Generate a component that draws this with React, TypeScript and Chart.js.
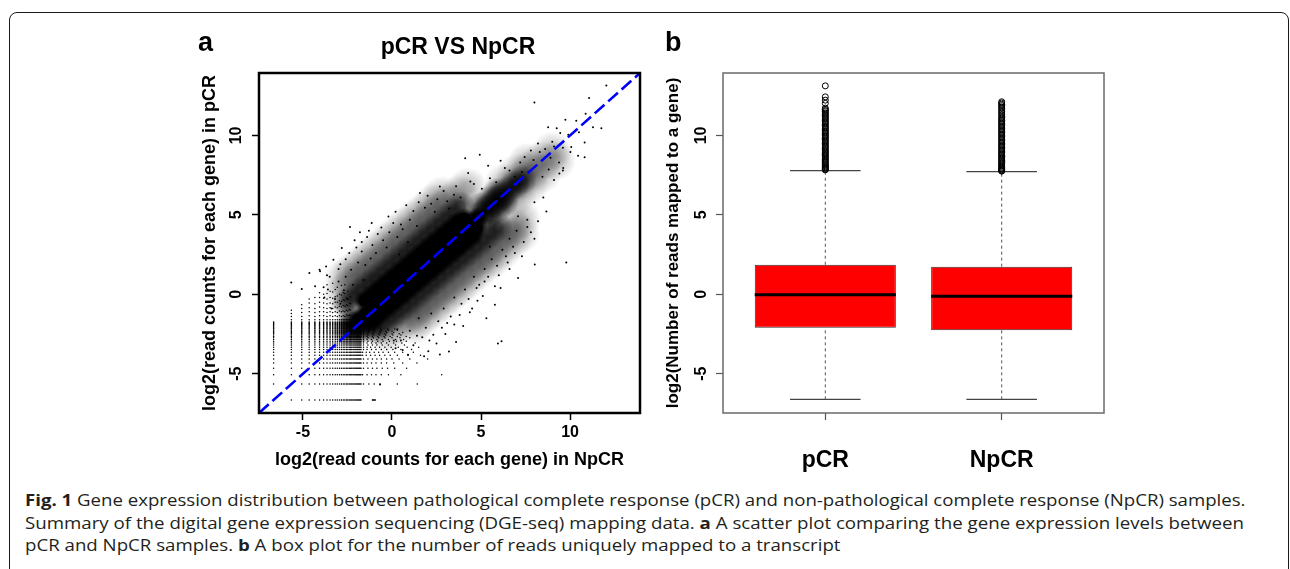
import React, { useEffect, useLayoutEffect, useRef, useState } from 'react';
import { Chart, registerables } from 'chart.js';

Chart.register(...registerables);

const PLOT_FONT = '"Liberation Sans", Arial, Helvetica, sans-serif';
const CAPTION_FONT = '"Open Sans", "Noto Sans", sans-serif';

// ---------------- panel a : scatter ----------------
const scatterTitle = 'pCR VS NpCR';
const scatterXLabel = 'log2(read counts for each gene) in NpCR';
const scatterYLabel = 'log2(read counts for each gene) in pCR';
const axisRange = [-7.47, 13.93];
const axisTicks = [-5, 0, 5, 10];
const diagonalEnds = [-7.47, 13.93];

// solid black core of the gene cloud
const corePoints = [
  [-1.9, -1.6], [-1.5, -1.22], [-1.1, -0.84], [-0.7, -0.46], [-0.3, -0.08], [0.1, 0.3], [0.5, 0.68], [0.9, 1.06],
  [1.3, 1.44], [1.7, 1.82], [2.1, 2.2], [2.5, 2.58], [2.9, 2.96], [3.3, 3.34], [3.7, 3.72], [4.1, 4.1], [4.5, 4.5], [4.8, 4.8],
  [-1.54, -0.4], [-1.14, -0.02], [-0.74, 0.36], [-0.34, 0.74], [0.06, 1.12], [0.46, 1.5], [0.86, 1.88],
  [1.26, 2.26], [1.66, 2.64], [2.06, 3.02], [2.46, 3.4], [2.86, 3.78], [3.26, 4.16], [3.66, 4.54],
  [-1.06, -1.66], [-0.66, -1.28], [-0.26, -0.9], [0.14, -0.52], [0.54, -0.14], [0.94, 0.24], [1.34, 0.62], [1.74, 1.0],
  [2.14, 1.38], [2.54, 1.76], [2.94, 2.14], [3.34, 2.52], [3.74, 2.9], [4.14, 3.28], [4.54, 3.66],
  [4.75, 4.15], [4.05, 4.75], [-1.45, -1.75],
];

// dense stippled zone around the core
const denseZonePoints = [
  [-2.55, -0.55], [-2.15, -0.15], [-1.75, 0.23], [-1.35, 0.62], [-0.95, 0.97], [-0.55, 1.35], [-0.15, 1.73], [0.25, 2.11],
  [0.65, 2.49], [1.05, 2.87], [1.45, 3.25], [1.85, 3.63], [2.25, 4.0], [2.65, 4.38], [3.05, 4.76], [3.45, 5.15], [3.85, 5.55],
  [-0.85, -2.25], [-0.45, -1.85], [-0.05, -1.47], [0.35, -1.08], [0.75, -0.73], [1.15, -0.35], [1.55, 0.03], [1.95, 0.41],
  [2.35, 0.79], [2.75, 1.17], [3.15, 1.55], [3.55, 1.93], [3.95, 2.3], [4.35, 2.68], [4.75, 3.06], [5.15, 3.45], [5.55, 3.85],
  [5.95, 4.25],
  [4.9, 4.9], [5.3, 5.3], [5.7, 5.7], [6.1, 6.1], [6.5, 6.5], [6.9, 6.9], [5.0, 5.5], [5.5, 5.9], [5.9, 6.4], [5.4, 4.9],
  [5.9, 5.4], [6.3, 5.8], [7.3, 7.2],
  [-2.2, -2.0], [-2.5, -2.3], [-2.3, -1.5], [-1.5, -2.15], [-1.2, -1.9], [-1.85, -2.2],
];

// lighter fringe of the cloud
const fringeZonePoints = [
  [-2.75, 0.05], [-2.25, 0.55], [-1.75, 1.02], [-1.25, 1.45], [-0.75, 1.93], [-0.25, 2.4], [0.25, 2.88], [0.75, 3.35],
  [1.25, 3.83], [1.75, 4.3], [2.25, 4.78], [2.75, 5.25], [3.25, 5.75], [3.75, 6.25], [4.25, 6.75],
  [-2.7, 1.0], [-2.2, 1.47], [-1.7, 1.9], [-1.2, 2.38], [-0.7, 2.85], [-0.2, 3.33], [0.3, 3.8], [0.8, 4.28], [1.3, 4.75],
  [1.8, 5.2], [2.3, 5.7], [2.8, 6.2],
  [-0.25, -2.45], [0.25, -1.95], [0.75, -1.48], [1.25, -1.05], [1.75, -0.57], [2.25, -0.1], [2.75, 0.38], [3.25, 0.85],
  [3.75, 1.33], [4.25, 1.8], [4.75, 2.27], [5.25, 2.75], [5.75, 3.25], [6.25, 3.75], [6.75, 4.25], [7.25, 4.75],
  [1.2, -1.93], [1.7, -1.45], [2.2, -1.0], [2.7, -0.52], [3.2, -0.05], [3.7, 0.4], [4.2, 0.9], [4.7, 1.4], [5.2, 1.9],
  [5.7, 2.3], [6.2, 2.8], [6.7, 3.4], [7.2, 3.8],
  [6.0, 6.0], [6.6, 6.6], [7.2, 7.2], [7.8, 7.8], [8.4, 8.4], [9.0, 9.0], [6.3, 7.0], [7.0, 7.6], [7.6, 8.3], [7.0, 6.2],
  [7.7, 6.9], [8.4, 7.6], [9.2, 8.4],
];

// individually visible genes
const sparsePoints = [
  [8.0, 12.08], [12.04, 13.14], [11.07, 12.35], [10.88, 11.36], [9.74, 10.99], [10.35, 10.93], [8.77, 10.52], [9.25, 10.45],
  [9.45, 10.15], [9.9, 10.05], [11.29, 10.52], [11.76, 10.46], [10.82, 9.56], [10.07, 9.27], [10.45, 8.72], [10.82, 8.62],
  [10.02, 8.95], [9.6, 9.22], [9.1, 9.3], [8.6, 9.15], [8.9, 8.6], [9.38, 8.3], [9.4, 7.6], [9.62, 7.95], [8.3, 8.95],
  [7.95, 8.45], [7.8, 9.05], [7.45, 8.65], [7.3, 7.7], [8.45, 7.4], [8.8, 7.85], [9.0, 9.6], [8.2, 9.5], [10.5, 10.2],
  [4.93, 8.78], [4.11, 8.57], [6.34, 7.95], [4.28, 7.63], [2.69, 6.79], [1.57, 6.37], [3.48, 6.27], [2.55, 5.98], [3.1, 5.85],
  [1.85, 5.45], [1.2, 5.25], [2.2, 5.7], [3.85, 6.1], [5.5, 7.3], [4.6, 6.95], [5.05, 6.65], [5.85, 7.05], [6.6, 7.8],
  [7.2, 8.3], [6.1, 8.4], [5.4, 8.1], [6.9, 7.4],
  [-1.14, 4.49], [0.07, 4.49], [-2.36, 4.23], [-2.82, 2.91], [-3.29, 2.18], [-4.04, 1.45], [-3.7, 1.75], [-2.0, 2.95],
  [-1.7, 2.7], [-1.4, 3.6], [-0.8, 3.8], [-0.5, 3.4], [-1.9, 2.0], [-2.3, 1.55], [-2.6, 1.1], [-3.0, 0.8], [-2.7, 0.25],
  [-3.2, -0.3], [-1.5, 1.85], [-0.9, 2.6], [-0.3, 2.95], [0.3, 3.6], [0.6, 4.1], [1.0, 4.7], [0.4, 2.5], [-0.15, 3.9],
  [0.9, 3.3], [-1.2, 2.25], [-2.2, 0.6], [-2.9, -0.6], [-3.6, 0.3], [-3.4, -0.9], [-1.6, 0.9], [-2.5, -0.3],
  [-4.32, 0.5], [-5.66, 0.75], [-5.07, 0.34], [-4.64, 1.34], [-4.07, 1.55], [-3.65, 1.2], [-3.84, 0.45],
  [-2.6, 2.2], [-2.1, 3.4], [-1.8, 3.9], [-1.1, 3.1], [-0.6, 4.2], [0.5, 4.4], [0.8, 5.6], [1.5, 5.8], [2.0, 6.2],
  [-3.5, 1.1], [-3.0, 1.6], [-2.4, 2.6], [-1.3, 4.0], [-0.2, 4.9], [1.4, 4.3], [2.4, 5.2], [3.2, 5.4], [3.6, 6.8],
  [4.4, 7.1], [-3.8, -0.2], [-2.9, 1.9], [-1.7, 3.3], [0.2, 5.2], [2.9, 6.5],
  [2.32, -2.54], [2.04, -3.58], [2.69, -3.79], [-0.67, -5.68], [4.37, -1.13], [4.75, 0.4], [5.78, 0.5], [5.78, -0.65],
  [6.15, -2.96], [5.95, -3.1], [7.08, 1.03], [8.02, 1.87], [9.79, 2.01], [7.6, 4.23], [7.08, 4.91], [8.67, 5.22],
  [1.9, -2.1], [2.6, -1.7], [3.3, -1.4], [3.9, -0.6], [3.5, -0.2], [4.1, 0.3], [4.6, 1.1], [5.2, 1.6], [5.6, 2.2],
  [6.2, 2.8], [6.6, 3.5], [7.0, 4.0], [1.5, -1.5], [1.0, -2.3], [0.5, -2.9], [0.2, -3.4], [1.2, -3.2], [3.0, -2.5],
  [2.9, -0.9], [4.0, -2.0], [3.6, -3.0], [5.2, 0.8], [6.5, 2.0], [7.4, 3.3], [8.2, 4.6], [8.5, 6.1], [9.1, 7.2],
  [9.6, 7.8], [8.0, 5.8], [1.7, -2.7], [0.9, -3.8], [3.2, -3.6], [0.3, -2.2], [2.2, -1.2], [4.8, -0.4], [6.9, 2.6],
  [7.8, 3.9], [5.5, 3.0], [6.0, 1.2],
  [0.6, -3.5], [1.4, -2.6], [2.1, -2.9], [2.8, -2.1], [3.5, -1.9], [4.3, -0.3], [4.9, 0.6], [5.4, 1.1], [5.9, 1.8],
  [6.4, 2.4], [6.8, 3.0], [7.6, 4.7], [3.8, -1.3], [4.5, -0.9], [5.1, -0.1], [6.1, 0.4], [2.5, -3.1], [1.8, -3.9],
  [0.1, -2.9], [3.1, -1.8], [6.6, 1.6], [7.3, 2.4], [8.0, 3.5], [5.3, -1.5],
];

// discrete low-count levels (log2 of 1..30 reads) that form the grid in the lower left
const latticeLevels = [
  -6.65, -5.65, -5.07, -4.65, -4.33, -4.07, -3.84, -3.65, -3.48, -3.33, -3.19, -3.07, -2.95, -2.84, -2.74,
  -2.65, -2.56, -2.48, -2.4, -2.33, -2.26, -2.19, -2.13, -2.07, -2.01, -1.95, -1.9, -1.84, -1.79, -1.74,
];
// grid columns continuing upwards above the level grid: [x, y values]
const latticeColumnTails = [
  [-5.65, [-1.6, -1.4, -1.2, -1.0]],
  [-5.07, [-1.6, -1.4, -1.15, -0.9, -0.65]],
  [-4.65, [-1.6, -1.35, -1.1, -0.85, -0.55, -0.3]],
  [-4.33, [-1.6, -1.4, -1.15, -0.9, -0.6, -0.2]],
  [-4.07, [-1.6, -1.35, -1.1, -0.8, -0.5, -0.2, 0.1]],
  [-3.84, [-1.6, -1.35, -1.1, -0.85, -0.55, -0.25, 0.0]],
  [-3.65, [-1.6, -1.4, -1.15, -0.9, -0.6, -0.3, 0.05, 0.6]],
  [-3.48, [-1.6, -1.35, -1.1, -0.85, -0.55, -0.2, 0.2]],
  [-3.33, [-1.6, -1.4, -1.15, -0.9, -0.6, -0.25, 0.15, 0.7]],
  [-3.19, [-1.6, -1.35, -1.1, -0.8, -0.5, -0.15, 0.3]],
  [-3.07, [-1.6, -1.4, -1.15, -0.85, -0.5, -0.1, 0.45]],
  [-2.95, [-1.6, -1.35, -1.05, -0.75, -0.4, 0.0]],
  [-2.84, [-1.6, -1.4, -1.1, -0.8, -0.45, -0.05, 0.55]],
  [-2.74, [-1.6, -1.35, -1.05, -0.7, -0.35, 0.1]],
  [-2.65, [-1.6, -1.4, -1.1, -0.75, -0.4, 0.05, 0.6]],
  [-2.56, [-1.6, -1.3, -1.0, -0.65, -0.25]],
  [-2.48, [-1.6, -1.35, -1.05, -0.7, -0.3, 0.2]],
  [-2.4, [-1.6, -1.3, -0.95, -0.55]],
  [-2.33, [-1.6, -1.35, -1.0, -0.6, -0.15]],
];
// grid rows continuing to the right of the level grid: [y, x values]
const latticeRowTails = [
  [-6.65, [-1.1, -1.06, -1.02, -0.98, -0.94]],
  [-5.65, [-1.6, -1.3, -1.0, -0.67, 0.3, 1.42]],
  [-5.07, [-1.65, -1.4, -1.15, -0.9, -0.6, -0.2, 0.5, 2.79]],
  [-4.65, [-1.6, -1.35, -1.1, -0.85, -0.55, -0.25, 0.15, 0.82]],
  [-4.33, [-1.6, -1.4, -1.15, -0.9, -0.6, -0.3, 0.1, 0.6, 1.4]],
  [-4.07, [-1.6, -1.35, -1.1, -0.85, -0.6, -0.3, 0.0, 0.4, 1.0, 2.0]],
  [-3.84, [-1.65, -1.45, -1.2, -0.95, -0.7, -0.4, -0.1, 0.3, 0.9, 1.6]],
  [-3.65, [-1.65, -1.45, -1.25, -1.0, -0.75, -0.5, -0.2, 0.15, 0.6, 1.2]],
  [-3.48, [-1.6, -1.4, -1.15, -0.9, -0.6, -0.3, 0.05, 0.5, 1.1]],
  [-3.33, [-1.6, -1.4, -1.2, -0.95, -0.7, -0.4, -0.05, 0.35, 0.85, 1.5]],
  [-3.19, [-1.6, -1.35, -1.1, -0.85, -0.55, -0.2, 0.2, 0.7]],
  [-3.07, [-1.6, -1.4, -1.15, -0.9, -0.6, -0.3, 0.1, 0.55, 1.3]],
  [-2.95, [-1.6, -1.35, -1.1, -0.8, -0.5, -0.15, 0.25, 0.8]],
  [-2.84, [-1.6, -1.4, -1.15, -0.85, -0.55, -0.2, 0.2, 0.65]],
  [-2.74, [-1.6, -1.35, -1.05, -0.75, -0.4, 0.0, 0.45, 1.0]],
  [-2.65, [-1.6, -1.4, -1.1, -0.8, -0.45, -0.1, 0.3, 0.8]],
  [-2.56, [-1.6, -1.35, -1.05, -0.7, -0.35, 0.05, 0.5]],
  [-2.48, [-1.6, -1.4, -1.1, -0.75, -0.4, 0.0, 0.4]],
  [-2.4, [-1.6, -1.3, -1.0, -0.65, -0.3, 0.1, 0.6]],
  [-2.33, [-1.6, -1.35, -1.05, -0.7, -0.35, 0.0]],
  [-2.26, [-1.6, -1.3, -0.95, -0.6, -0.2, 0.3]],
  [-2.19, [-1.6, -1.35, -1.0, -0.65, -0.25, 0.15]],
];

// ---------------- panel b : box plot ----------------
const boxCategories = ['pCR', 'NpCR'];
const boxPositions = [1, 2];
const boxXRange = [0.42, 2.58];
const boxYLabel = 'log2(Number of reads mapped to a gene)';
const boxQ1 = [-2.11, -2.26];
const boxMedian = [-0.02, -0.12];
const boxQ3 = [1.86, 1.74];
const whiskerLow = [-6.61, -6.61];
const whiskerHigh = [7.78, 7.72];
const outliersPCR = [
  13.12, 12.43, 12.22, 12.02, 11.72, 11.64, 11.57, 11.5, 11.41, 11.33, 11.26, 11.17, 11.1, 11.02, 10.93, 10.86, 10.78,
  10.7, 10.61, 10.53, 10.46, 10.38, 10.29, 10.21, 10.14, 10.05, 9.97, 9.9, 9.81, 9.73, 9.66, 9.57, 9.5, 9.42, 9.33,
  9.26, 9.18, 9.1, 9.02, 8.95, 8.87, 8.8, 8.72, 8.65, 8.57, 8.5, 8.43, 8.36, 8.29, 8.22, 8.15, 8.09, 8.03, 7.97, 7.92,
  7.87, 7.83,
];
const outliersNpCR = [
  12.12, 12.04, 11.96, 11.88, 11.79, 11.7, 11.6, 11.5, 11.41, 11.3, 11.2, 11.11, 11.03, 10.94, 10.86, 10.77, 10.69,
  10.6, 10.52, 10.43, 10.35, 10.26, 10.18, 10.09, 10.01, 9.92, 9.84, 9.75, 9.67, 9.58, 9.5, 9.41, 9.33, 9.25, 9.16,
  9.08, 8.99, 8.91, 8.83, 8.75, 8.67, 8.59, 8.51, 8.43, 8.36, 8.28, 8.21, 8.14, 8.07, 8.0, 7.94, 7.88, 7.83, 7.78, 7.75,
];

// ---------------- caption ----------------
const captionLines = [
  [['Fig. 1', true], [' Gene expression distribution between pathological complete response (pCR) and non-pathological complete response (NpCR) samples.', false]],
  [['Summary of the digital gene expression sequencing (DGE-seq) mapping data. ', false], ['a', true], [' A scatter plot comparing the gene expression levels between', false]],
  [['pCR and NpCR samples. ', false], ['b', true], [' A box plot for the number of reads uniquely mapped to a transcript', false]],
];
const captionTargetWidths = [1221, 1219];

const bold = (size: number) => ({ family: PLOT_FONT, size, weight: 'bold' as const });
const toXY = (pts: number[][]) => pts.map(([x, y]) => ({ x, y }));

// soft-edged fill for density blobs: radial gradient centred on each point
function softFill(radius: number, alpha: number, plateau: number) {
  return (c: any) => {
    const chart = c.chart;
    const fallback = `rgba(0,0,0,${alpha})`;
    if (!c.parsed || !chart.scales || !chart.scales.x) return fallback;
    const px = chart.scales.x.getPixelForValue(c.parsed.x);
    const py = chart.scales.y.getPixelForValue(c.parsed.y);
    if (!isFinite(px) || !isFinite(py)) return fallback;
    const g = chart.ctx.createRadialGradient(px, py, 0, px, py, radius);
    g.addColorStop(0, `rgba(0,0,0,${alpha})`);
    g.addColorStop(plateau, `rgba(0,0,0,${alpha})`);
    g.addColorStop(1, 'rgba(0,0,0,0)');
    return g;
  };
}

function framePlugin(id: string, color: string, width: number) {
  return {
    id,
    afterDatasetsDraw(chart: any) {
      const { ctx, chartArea } = chart;
      ctx.save();
      ctx.strokeStyle = color;
      ctx.lineWidth = width;
      ctx.strokeRect(chartArea.left, chartArea.top, chartArea.right - chartArea.left, chartArea.bottom - chartArea.top);
      ctx.restore();
    },
  };
}

function Txt(props: { x: number; baseline: number; size: number; center?: boolean; children: any }) {
  const { x, baseline, size, center, children } = props;
  return (
    <div
      style={{
        position: 'absolute',
        left: x,
        top: baseline - 0.8465 * size,
        fontFamily: PLOT_FONT,
        fontWeight: 'bold',
        fontSize: size,
        lineHeight: 1,
        whiteSpace: 'nowrap',
        color: '#000',
        transform: center ? 'translateX(-50%)' : undefined,
      }}
    >
      {children}
    </div>
  );
}

function Caption() {
  const r0 = useRef<HTMLSpanElement>(null);
  const r1 = useRef<HTMLSpanElement>(null);
  const r2 = useRef<HTMLSpanElement>(null);
  const refs = [r0, r1, r2];
  const [scales, setScales] = useState([1, 1, 1]);
  useLayoutEffect(() => {
    const w0 = r0.current ? r0.current.offsetWidth : 0;
    const w1 = r1.current ? r1.current.offsetWidth : 0;
    if (!w0 || !w1) return;
    const s0 = captionTargetWidths[0] / w0;
    const s1 = captionTargetWidths[1] / w1;
    setScales([s0, s1, (s0 + s1) / 2]);
  }, []);
  return (
    <>
      {captionLines.map((line, i) => (
        <span
          key={i}
          ref={refs[i]}
          style={{
            position: 'absolute',
            left: 25,
            top: 489 + i * 22.5,
            fontFamily: CAPTION_FONT,
            fontSize: 16.5,
            lineHeight: '22.5px',
            color: '#231f20',
            whiteSpace: 'nowrap',
            display: 'inline-block',
            transformOrigin: '0 0',
            transform: `scaleX(${scales[i]})`,
          }}
        >
          {line.map((seg: any, j: number) => (
            <span key={j} style={{ fontWeight: seg[1] ? 700 : 400 }}>{seg[0]}</span>
          ))}
        </span>
      ))}
    </>
  );
}

export default function App() {
  const scatterRef = useRef<HTMLCanvasElement>(null);
  const boxRef = useRef<HTMLCanvasElement>(null);

  useEffect(() => {
    const latticePoints: { x: number; y: number }[] = [];
    latticeLevels.forEach((x, i) =>
      latticeLevels.forEach((y, j) => {
        if (i === 0 && j === 0) return;
        latticePoints.push({ x, y });
      })
    );
    latticeColumnTails.forEach(([x, ys]: any) => ys.forEach((y: number) => latticePoints.push({ x, y })));
    latticeRowTails.forEach(([y, xs]: any) => xs.forEach((x: number) => latticePoints.push({ x, y })));

    const scatter = new Chart(scatterRef.current as HTMLCanvasElement, {
      type: 'scatter',
      data: {
        datasets: [
          {
            label: 'y = x',
            data: diagonalEnds.map((v) => ({ x: v, y: v })),
            showLine: true,
            borderColor: '#0000ff',
            borderWidth: 2.6,
            borderDash: [13, 5],
            pointRadius: 0,
            order: 0,
          },
          { label: 'core', data: toXY(corePoints), pointRadius: 11, backgroundColor: softFill(11, 1, 0.5), borderWidth: 0, order: 1 },
          { label: 'dense', data: toXY(denseZonePoints), pointRadius: 15, backgroundColor: softFill(15, 0.6, 0.3), borderWidth: 0, order: 2 },
          { label: 'fringe', data: toXY(fringeZonePoints), pointRadius: 20, backgroundColor: softFill(20, 0.24, 0.25), borderWidth: 0, order: 3 },
          { label: 'genes', data: toXY(sparsePoints), pointRadius: 1.0, backgroundColor: '#000', borderWidth: 0, order: 4 },
          { label: 'low counts', data: latticePoints, pointRadius: 0.75, backgroundColor: '#000', borderWidth: 0, order: 5 },
        ],
      } as any,
      options: {
        responsive: false,
        animation: false,
        events: [],
        layout: { padding: { top: 20, right: 19, left: 0, bottom: 0 } },
        plugins: { legend: { display: false }, tooltip: { enabled: false }, title: { display: false } },
        scales: {
          x: {
            type: 'linear',
            min: axisRange[0],
            max: axisRange[1],
            afterBuildTicks: (s: any) => { s.ticks = axisTicks.map((value) => ({ value })); },
            afterFit: (s: any) => { s.height = 67; },
            ticks: { font: bold(16), color: '#000', padding: 3, autoSkip: false, maxRotation: 0, minRotation: 0 },
            grid: { display: true, drawOnChartArea: false, drawTicks: true, tickLength: 7, tickColor: '#000', tickWidth: 1.5 },
            border: { display: false },
            title: { display: true, text: scatterXLabel, font: bold(18), color: '#000', padding: { top: 0, bottom: 9 } },
          },
          y: {
            type: 'linear',
            min: axisRange[0],
            max: axisRange[1],
            afterBuildTicks: (s: any) => { s.ticks = axisTicks.map((value) => ({ value })); },
            afterFit: (s: any) => { s.width = 79; },
            ticks: { font: bold(16), color: '#000', padding: 6.4, autoSkip: false, minRotation: 90, maxRotation: 90, crossAlign: 'center' },
            grid: { display: true, drawOnChartArea: false, drawTicks: true, tickLength: 7, tickColor: '#000', tickWidth: 1.5 },
            border: { display: false },
            title: { display: true, text: scatterYLabel, font: bold(18), color: '#000', padding: { top: 19, bottom: 0 } },
          },
        },
      } as any,
      plugins: [framePlugin('frameA', '#000', 2.5)],
    });

    const boxDatasets: any[] = [
      {
        type: 'bar',
        label: 'IQR',
        data: boxPositions.map((p, i) => ({ x: p, y: [boxQ1[i], boxQ3[i]] })),
        backgroundColor: '#ff0000',
        borderColor: '#333',
        borderWidth: 1,
        borderSkipped: false,
        categoryPercentage: 0.8,
        barPercentage: 1,
        order: 3,
      },
    ];
    boxPositions.forEach((p, i) => {
      const line = (pts: number[][], extra: any) => ({
        type: 'line',
        data: toXY(pts),
        pointRadius: 0,
        fill: false,
        tension: 0,
        ...extra,
      });
      boxDatasets.push(line([[p - 0.4, boxMedian[i]], [p + 0.4, boxMedian[i]]], { label: 'median', borderColor: '#000', borderWidth: 3, order: 1 }));
      boxDatasets.push(line([[p, boxQ3[i]], [p, whiskerHigh[i]]], { label: 'whisker', borderColor: '#555', borderWidth: 1, borderDash: [3, 3], order: 4 }));
      boxDatasets.push(line([[p, whiskerLow[i]], [p, boxQ1[i]]], { label: 'whisker', borderColor: '#555', borderWidth: 1, borderDash: [3, 3], order: 4 }));
      boxDatasets.push(line([[p - 0.2, whiskerHigh[i]], [p + 0.2, whiskerHigh[i]]], { label: 'cap', borderColor: '#444', borderWidth: 1.2, order: 4 }));
      boxDatasets.push(line([[p - 0.2, whiskerLow[i]], [p + 0.2, whiskerLow[i]]], { label: 'cap', borderColor: '#444', borderWidth: 1.2, order: 4 }));
    });
    [outliersPCR, outliersNpCR].forEach((vals, i) => {
      boxDatasets.push({
        type: 'scatter',
        label: 'outliers',
        data: vals.map((v) => ({ x: boxPositions[i], y: v })),
        pointRadius: 3,
        pointStyle: 'circle',
        backgroundColor: 'rgba(0,0,0,0)',
        borderColor: '#000',
        borderWidth: 1,
        order: 0,
      });
    });

    const box = new Chart(boxRef.current as HTMLCanvasElement, {
      type: 'bar',
      data: { datasets: boxDatasets },
      options: {
        responsive: false,
        animation: false,
        events: [],
        layout: { padding: { top: 20, right: 16, left: 0, bottom: 0 } },
        plugins: { legend: { display: false }, tooltip: { enabled: false }, title: { display: false } },
        scales: {
          x: {
            type: 'linear',
            min: boxXRange[0],
            max: boxXRange[1],
            offset: false,
            afterBuildTicks: (s: any) => { s.ticks = boxPositions.map((value) => ({ value })); },
            afterFit: (s: any) => { s.height = 67; },
            ticks: {
              font: bold(23),
              color: '#000',
              padding: 26.7,
              autoSkip: false,
              maxRotation: 0,
              minRotation: 0,
              callback: (v: any) => boxCategories[boxPositions.indexOf(Number(v))] ?? '',
            },
            grid: { display: true, offset: false, drawOnChartArea: false, drawTicks: true, tickLength: 7, tickColor: '#555', tickWidth: 1.2 },
            border: { display: false },
          },
          y: {
            type: 'linear',
            min: axisRange[0],
            max: axisRange[1],
            afterBuildTicks: (s: any) => { s.ticks = axisTicks.map((value) => ({ value })); },
            afterFit: (s: any) => { s.width = 83; },
            ticks: { font: bold(16), color: '#000', padding: 5.4, autoSkip: false, minRotation: 90, maxRotation: 90, crossAlign: 'center' },
            grid: { display: true, drawOnChartArea: false, drawTicks: true, tickLength: 7, tickColor: '#555', tickWidth: 1.2 },
            border: { display: false },
            title: { display: true, text: boxYLabel, font: bold(17), color: '#000', padding: { top: 22.8, bottom: 0 } },
          },
        },
      } as any,
      plugins: [framePlugin('frameB', '#6a6a6a', 1.5)],
    });

    return () => {
      scatter.destroy();
      box.destroy();
    };
  }, []);

  return (
    <div style={{ position: 'absolute', left: 0, top: 0, width: 1290, height: 569, overflow: 'hidden', background: '#fff' }}>
      <div
        style={{
          position: 'absolute',
          left: 9,
          top: 12,
          width: 1280,
          height: 640,
          border: '1.5px solid #1a1a1a',
          borderRadius: 8,
          boxSizing: 'border-box',
        }}
      />
      <canvas ref={scatterRef} width={480} height={427} style={{ position: 'absolute', left: 180, top: 53, width: 480, height: 427 }} />
      <canvas ref={boxRef} width={480} height={427} style={{ position: 'absolute', left: 640, top: 53, width: 480, height: 427 }} />
      <Txt x={198} baseline={51.7} size={27}>a</Txt>
      <Txt x={665} baseline={51.7} size={27}>b</Txt>
      <Txt x={458} baseline={54} size={23} center>{scatterTitle}</Txt>
      <Caption />
    </div>
  );
}
